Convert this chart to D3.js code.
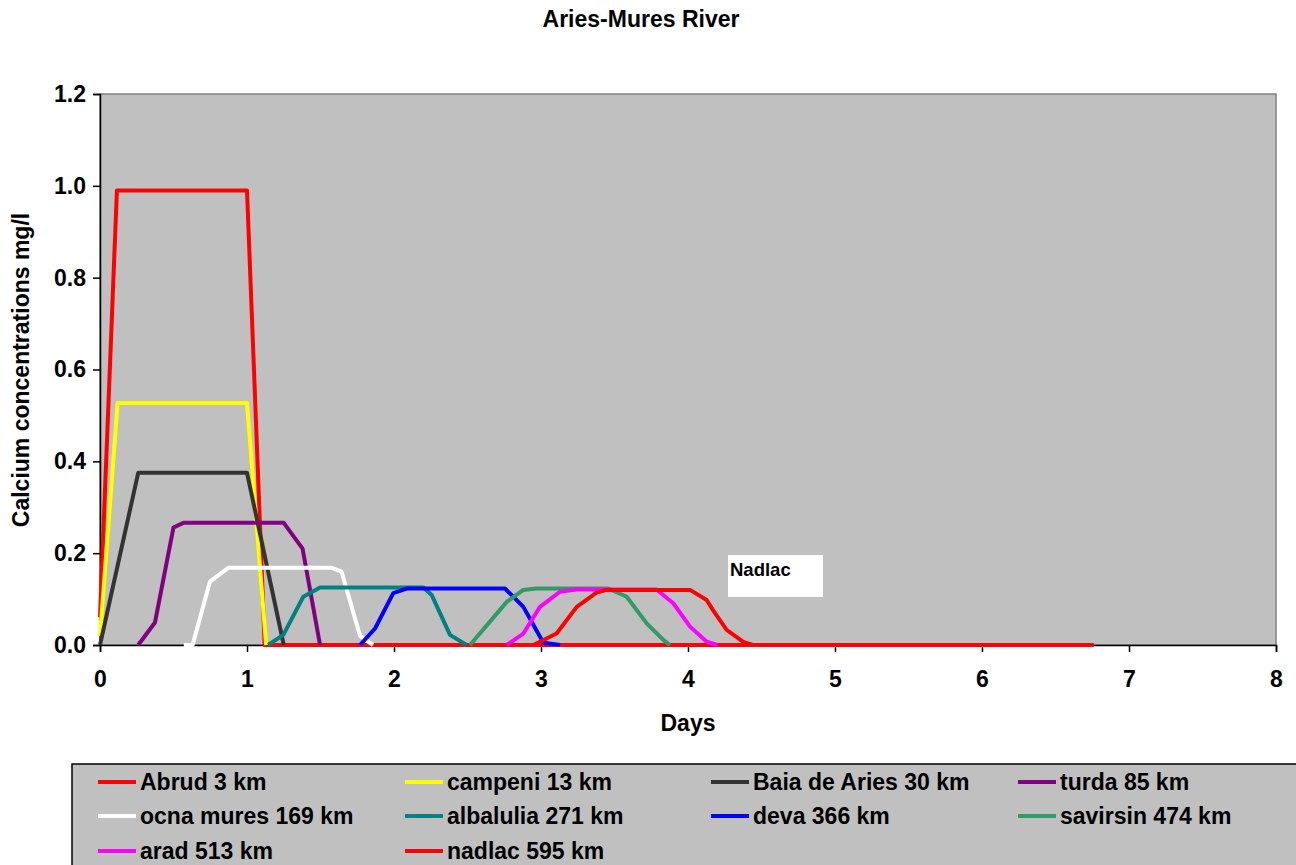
<!DOCTYPE html>
<html>
<head>
<meta charset="utf-8">
<script src="https://cdn.jsdelivr.net/npm/d3@7"></script>
<style>
  html, body { margin: 0; padding: 0; background: #ffffff; }
  svg { display: block; font-family: "Liberation Sans", Arial, sans-serif; }
</style>
</head>
<body>
<svg id="chart" width="1296" height="865"></svg>
<script>
// Calcium concentration (mg/l) over time (days) at stations along the Aries-Mures river.
// Each station: [day, concentration] pairs.
const abrud = [[0, 0.06], [0.115, 0.99], [1.0, 0.99], [1.12, 0], [6.76, 0]];
const campeni = [[0, 0.02], [0.12, 0.527], [1.0, 0.527], [1.13, 0]];
const baiaDeAries = [[0, 0], [0.26, 0.375], [1.0, 0.375], [1.25, 0]];
const turda = [[0.26, 0], [0.374, 0.049], [0.50, 0.256], [0.567, 0.266], [1.25, 0.266], [1.378, 0.21], [1.497, 0]];
const ocnaMures = [[0.57, 0], [0.63, 0], [0.748, 0.138], [0.873, 0.168], [1.576, 0.168], [1.643, 0.16], [1.769, 0.02], [1.857, 0]];
const albalulia = [[1.144, 0], [1.247, 0.022], [1.383, 0.105], [1.497, 0.125], [2.20, 0.125], [2.256, 0.109], [2.381, 0.022], [2.494, 0]];
const deva = [[1.769, 0], [1.871, 0.036], [1.995, 0.113], [2.086, 0.123], [2.755, 0.123], [2.88, 0.083], [3.016, 0.005], [3.13, 0]];
const savirsin = [[2.517, 0], [2.653, 0.051], [2.767, 0.094], [2.88, 0.12], [2.97, 0.123], [3.458, 0.123], [3.583, 0.105], [3.719, 0.047], [3.832, 0.011], [3.878, 0]];
const arad = [[2.767, 0], [2.88, 0.025], [2.993, 0.083], [3.129, 0.116], [3.243, 0.121], [3.786, 0.121], [3.90, 0.091], [4.014, 0.04], [4.127, 0.007], [4.2, 0]];
const nadlac = [[2.948, 0], [3.106, 0.025], [3.243, 0.083], [3.378, 0.114], [3.446, 0.12], [4.014, 0.12], [4.127, 0.098], [4.17, 0.076], [4.263, 0.033], [4.376, 0.007], [4.44, 0]];

const seriesNames = ["Abrud 3 km", "campeni 13 km", "Baia de Aries 30 km", "turda 85 km",
  "ocna mures 169 km", "albalulia 271 km", "deva 366 km", "savirsin 474 km",
  "arad 513 km", "nadlac 595 km"];
const seriesData = [abrud, campeni, baiaDeAries, turda, ocnaMures, albalulia, deva, savirsin, arad, nadlac];
const seriesColors = ["#ff0000", "#ffff00", "#333333", "#800080", "#ffffff",
  "#008080", "#0000ff", "#339966", "#ff00ff", "#ff0000"];

const xTicks = [0, 1, 2, 3, 4, 5, 6, 7, 8];
const yTicks = [0, 0.2, 0.4, 0.6, 0.8, 1.0, 1.2];

const svg = d3.select("#chart");
const plot = { left: 100, right: 1276, top: 94, bottom: 645 };
const FONT = 23;

const x = d3.scaleLinear().domain([0, 8]).range([plot.left, plot.right]);
const y = d3.scaleLinear().domain([0, 1.2]).range([plot.bottom, plot.top]);

// Title
svg.append("text")
  .attr("x", 641).attr("y", 27)
  .attr("text-anchor", "middle")
  .attr("font-size", FONT).attr("font-weight", "bold")
  .text("Aries-Mures River");

// Plot area
svg.append("rect")
  .attr("x", plot.left).attr("y", plot.top)
  .attr("width", plot.right - plot.left).attr("height", plot.bottom - plot.top)
  .attr("fill", "#c0c0c0")
  .attr("stroke", "#808080").attr("stroke-width", 1.5);

// Axes
const yAxis = d3.axisLeft(y).tickValues(yTicks).tickFormat(d3.format(".1f")).tickSize(7).tickPadding(7);
const xAxis = d3.axisBottom(x).tickValues(xTicks).tickFormat(d3.format("d")).tickSize(7).tickPadding(19);

const gy = svg.append("g").attr("transform", `translate(${plot.left},0)`).call(yAxis);
const gx = svg.append("g").attr("transform", `translate(0,${plot.bottom})`).call(xAxis);
[gx, gy].forEach(g => {
  g.select(".domain").attr("stroke", "#000").attr("stroke-width", 1.5);
  g.selectAll(".tick line").attr("stroke", "#000").attr("stroke-width", 1.5);
  g.selectAll(".tick text")
    .attr("font-family", "'Liberation Sans', Arial, sans-serif")
    .attr("font-size", FONT).attr("font-weight", "bold").attr("fill", "#000");
});

// Axis titles
svg.append("text")
  .attr("x", 688).attr("y", 731)
  .attr("text-anchor", "middle")
  .attr("font-size", FONT).attr("font-weight", "bold")
  .text("Days");

svg.append("text")
  .attr("transform", "translate(29,370) rotate(-90)")
  .attr("text-anchor", "middle")
  .attr("font-size", FONT).attr("font-weight", "bold")
  .text("Calcium concentrations mg/l");

// Series lines
const line = d3.line().x(d => x(d[0])).y(d => y(d[1]));
svg.append("g").selectAll("path")
  .data(seriesData)
  .join("path")
  .attr("d", d => line(d))
  .attr("fill", "none")
  .attr("stroke", (d, i) => seriesColors[i])
  .attr("stroke-width", 4)
  .attr("stroke-linejoin", "round");

// Station annotation
const note = svg.append("g");
note.append("rect")
  .attr("x", 728).attr("y", 555).attr("width", 95).attr("height", 42)
  .attr("fill", "#ffffff");
note.append("text")
  .attr("x", 730).attr("y", 576)
  .attr("font-size", 18.5).attr("font-weight", "bold")
  .text("Nadlac");

// Legend
const legend = svg.append("g");
legend.append("rect")
  .attr("x", 72).attr("y", 764).attr("width", 1300).attr("height", 140)
  .attr("fill", "#c0c0c0").attr("stroke", "#000").attr("stroke-width", 1.5);

const colTextX = [140, 447, 753, 1060];
const rowY = [782, 816, 851];
const items = legend.selectAll("g.item")
  .data(seriesNames)
  .join("g")
  .attr("class", "item")
  .attr("transform", (d, i) => `translate(${colTextX[i % 4]},${rowY[Math.floor(i / 4)]})`);
items.append("line")
  .attr("x1", -42).attr("x2", -4).attr("y1", 0).attr("y2", 0)
  .attr("stroke", (d, i) => seriesColors[i]).attr("stroke-width", 4);
items.append("text")
  .attr("x", 0).attr("y", 8)
  .attr("font-size", FONT).attr("font-weight", "bold")
  .text(d => d);
</script>
</body>
</html>
